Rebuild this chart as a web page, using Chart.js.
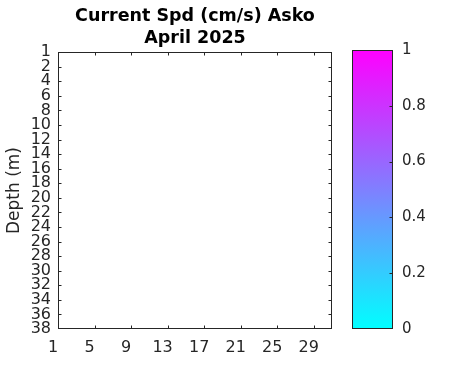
<!DOCTYPE html>
<html>
<head>
<meta charset="utf-8">
<script src="https://cdn.jsdelivr.net/npm/chart.js@4"></script>
<style>
html, body { margin: 0; padding: 0; background: #fff; }
#wrap { position: relative; width: 471px; height: 371px; }
#main { position: absolute; left: 0; top: 0; }
#cbar { position: absolute; left: 345px; top: 0; }
</style>
</head>
<body>
<div id="wrap">
  <canvas id="main" width="345" height="371"></canvas>
  <canvas id="cbar" width="126" height="371"></canvas>
</div>
<script>
var titleLines = ['Current Spd (cm/s) Asko', 'April 2025'];
var depthLabels = ['1','2','4','6','8','10','12','14','16','18','20','22','24','26','28','30','32','34','36','38'];
var dayTicks = [1, 5, 9, 13, 17, 21, 25, 29];
var dayRange = [1, 31];
// no speed readings were recorded this month, so the plot stays empty
var speedPoints = [];
var colorTicks = [0, 0.2, 0.4, 0.6, 0.8, 1];
var colorRange = [0, 1];

var ink = '#262626';
Chart.defaults.font.family = 'DejaVu Sans';
Chart.defaults.color = ink;

// MATLAB style box with inward ticks
function boxTicks(len, sides) {
  return {
    id: 'boxTicks',
    afterDraw: function (chart) {
      var a = chart.chartArea, c = chart.ctx;
      var l = Math.floor(a.left) + 0.5, r = Math.floor(a.right) - 0.5;
      var t = Math.floor(a.top) + 0.5, b = Math.floor(a.bottom) - 0.5;
      c.save();
      c.strokeStyle = ink;
      c.lineWidth = 1;
      c.strokeRect(l, t, r - l, b - t);
      c.beginPath();
      if (sides.x) {
        var xs = chart.scales.x;
        xs.ticks.forEach(function (tk) {
          var px = Math.round(xs.getPixelForValue(tk.value)) + 0.5;
          if (px <= l + 1 || px >= r - 1) return;
          c.moveTo(px, b); c.lineTo(px, b - len);
          c.moveTo(px, t); c.lineTo(px, t + len);
        });
      }
      var ys = chart.scales.y;
      ys.ticks.forEach(function (tk) {
        var py = Math.round(ys.getPixelForValue(tk.value)) + 0.5;
        if (py <= t + 1 || py >= b - 1) return;
        if (sides.left) { c.moveTo(l, py); c.lineTo(l + len, py); }
        c.moveTo(r, py); c.lineTo(r - len, py);
      });
      c.stroke();
      c.restore();
    }
  };
}

new Chart(document.getElementById('main'), {
  type: 'scatter',
  data: { datasets: [{ data: speedPoints, pointRadius: 3 }] },
  options: {
    responsive: false,
    animation: false,
    layout: { padding: { left: 0, right: 13, top: 0, bottom: 0 } },
    plugins: {
      legend: { display: false },
      tooltip: { enabled: false },
      title: {
        display: true,
        text: titleLines,
        fullSize: false,
        color: '#000',
        font: { size: 17.5, weight: 'bold', lineHeight: 1.26 },
        padding: { top: 5, bottom: 3 }
      }
    },
    scales: {
      x: {
        type: 'linear',
        min: dayRange[0],
        max: dayRange[1],
        afterBuildTicks: function (s) { s.ticks = dayTicks.map(function (v) { return { value: v }; }); },
        afterFit: function (s) { s.height = 42; },
        grid: { display: false, drawTicks: false },
        border: { display: false },
        ticks: { font: { size: 16, lineHeight: 1 }, padding: 11, labelOffset: -5, maxRotation: 0, autoSkip: false }
      },
      y: {
        type: 'linear',
        reverse: true,
        min: 0,
        max: depthLabels.length - 1,
        afterBuildTicks: function (s) { s.ticks = depthLabels.map(function (l, i) { return { value: i }; }); },
        afterFit: function (s) { s.width = 58; },
        grid: { display: false, drawTicks: false },
        border: { display: false },
        ticks: {
          font: { size: 16, lineHeight: 1 },
          padding: 7,
          autoSkip: false,
          callback: function (v) { return depthLabels[v]; }
        },
        title: { display: true, text: 'Depth (m)', font: { size: 17 }, padding: { top: 4, bottom: 0 } }
      }
    }
  },
  plugins: [boxTicks(3, { x: true, left: true })]
});

new Chart(document.getElementById('cbar'), {
  type: 'bar',
  data: {
    labels: [''],
    datasets: [{
      data: [colorRange],
      barPercentage: 1,
      categoryPercentage: 1,
      borderWidth: 0,
      backgroundColor: function (ctx) {
        var a = ctx.chart.chartArea;
        if (!a) return '#ff00ff';
        var g = ctx.chart.ctx.createLinearGradient(0, a.bottom, 0, a.top);
        g.addColorStop(0, '#00ffff');
        g.addColorStop(1, '#ff00ff');
        return g;
      }
    }]
  },
  options: {
    responsive: false,
    animation: false,
    layout: { padding: { left: 7, right: 0, top: 50, bottom: 42 } },
    plugins: { legend: { display: false }, tooltip: { enabled: false } },
    scales: {
      x: { display: false },
      y: {
        position: 'right',
        min: colorRange[0],
        max: colorRange[1],
        afterBuildTicks: function (s) { s.ticks = colorTicks.map(function (v) { return { value: v }; }); },
        afterFit: function (s) { s.width = 78; },
        grid: { display: false, drawTicks: false },
        border: { display: false },
        ticks: { font: { size: 15, lineHeight: 1 }, padding: 9, callback: function (v) { return String(v); } }
      }
    }
  },
  plugins: [boxTicks(3, { x: false, left: false })]
});
</script>
</body>
</html>
